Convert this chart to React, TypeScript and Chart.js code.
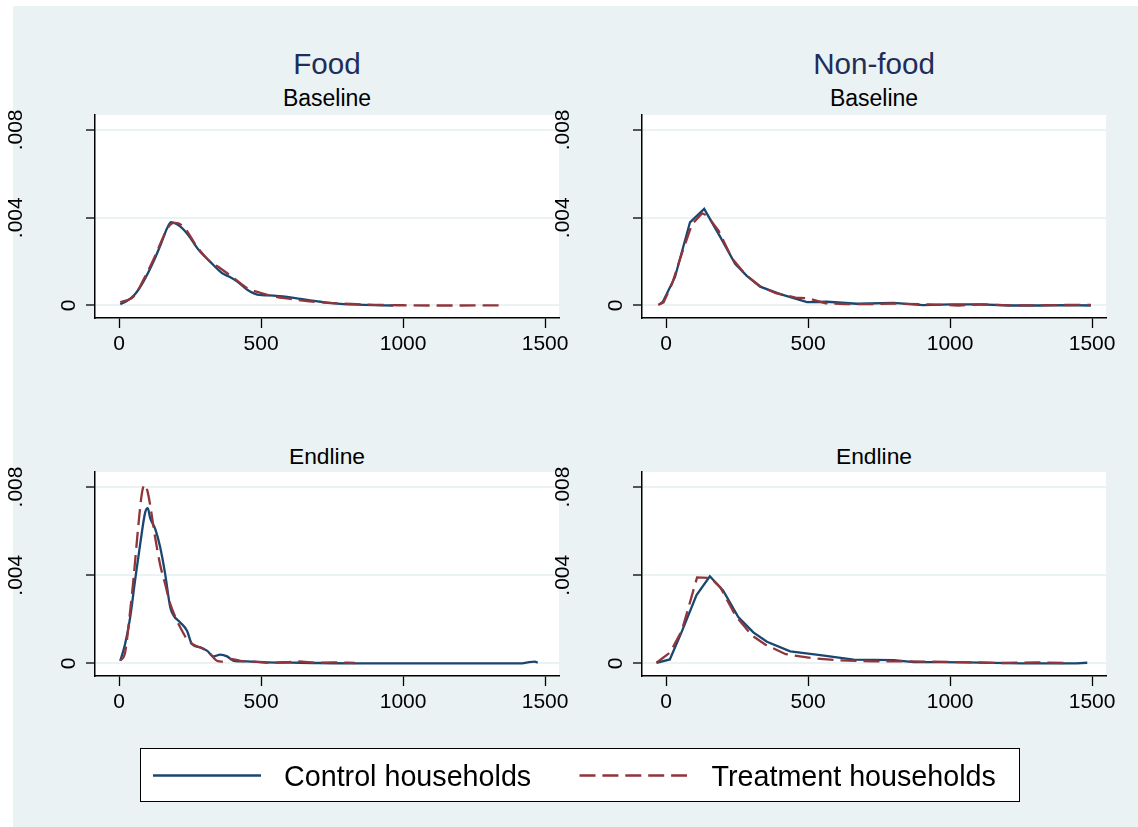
import React, { useEffect, useRef } from "react";
import { Chart, registerables } from "chart.js";

Chart.register(...registerables);

// ---------------- Data ----------------
const columnTitles = ["Food", "Non-food"];
const rowTitles = ["Baseline", "Endline"];
const seriesLabels = ["Control households", "Treatment households"];
const xTickValues = [0, 500, 1000, 1500];
const yTickValues = [0, 0.004, 0.008];
const yTickLabels = ["0", ".004", ".008"];

// Food, baseline
const foodBaseCtrlX = [4, 27, 55, 86, 121, 150, 168, 183, 191, 215, 244, 279, 320, 362, 385, 415, 450, 486, 544, 591, 638, 709, 780, 862, 965];
const foodBaseCtrlY = [0.00006, 0.0002, 0.0005, 0.0011, 0.002, 0.0029, 0.0035, 0.0038, 0.00378, 0.0036, 0.0032, 0.00255, 0.002, 0.00148, 0.00133, 0.0011, 0.00073, 0.0005, 0.00045, 0.00039, 0.0003, 0.00017, 0.00007, 0.00003, 0.0];
const foodBaseTrtX = [4, 52, 86, 121, 162, 180, 197, 226, 273, 320, 356, 403, 450, 497, 544, 591, 662, 732, 815, 900, 1000, 1100, 1200, 1346];
const foodBaseTrtY = [0.00015, 0.00042, 0.00118, 0.0021, 0.0033, 0.00368, 0.00376, 0.0036, 0.0027, 0.002, 0.0017, 0.00126, 0.0008, 0.00058, 0.00042, 0.00032, 0.0002, 0.00012, 0.00007, 0.00003, 0.00001, 0.0, 0.0, 0.00001];

// Non-food, baseline
const nonfoodBaseCtrlX = [-22, -11, 31, 84, 134, 190, 243, 284, 331, 402, 496, 566, 672, 801, 905, 1003, 1107, 1210, 1314, 1418, 1496];
const nonfoodBaseCtrlY = [0.00006, 0.00018, 0.00129, 0.00379, 0.0044, 0.00314, 0.0019, 0.00135, 0.00086, 0.00052, 0.00015, 0.00017, 0.00008, 0.00012, 0.00002, 0.00005, 0.00005, 0.0, 0.0, 0.00002, 0.0];
const nonfoodBaseTrtX = [-28, -9, 21, 56, 91, 127, 144, 185, 232, 280, 333, 386, 456, 503, 562, 633, 727, 795, 925, 1029, 1120, 1223, 1379, 1496];
const nonfoodBaseTrtY = [0.00003, 0.00014, 0.001, 0.0024, 0.0037, 0.0042, 0.0041, 0.0034, 0.00215, 0.0014, 0.00086, 0.00056, 0.00036, 0.00032, 0.0001, 0.00006, 0.00006, 0.00009, 0.00005, 0.0, 0.00005, 0.0, 0.00002, 0.00003];

// Food, endline
const foodEndCtrlX = [4, 21, 39, 56, 74, 92, 101, 109, 127, 144, 162, 180, 192, 215, 239, 256, 286, 309, 333, 356, 380, 403, 450, 521, 638, 862, 1118, 1413, 1439, 1464, 1474];
const foodEndCtrlY = [0.00012, 0.00088, 0.0021, 0.00376, 0.0054, 0.00686, 0.00704, 0.0066, 0.0061, 0.0053, 0.00406, 0.00255, 0.00217, 0.00186, 0.00148, 0.00088, 0.00073, 0.00058, 0.00032, 0.0004, 0.00032, 0.00012, 0.00009, 0.00005, 0.00003, 0.0, 0.0, 0.0, 0.00005, 0.00008, 0.00003];
const foodEndTrtX = [4, 21, 39, 50, 68, 80, 89, 100, 109, 127, 144, 162, 180, 198, 215, 239, 262, 297, 321, 344, 362, 391, 427, 474, 533, 591, 627, 700, 750, 830];
const foodEndTrtY = [0.00012, 0.0005, 0.0024, 0.00376, 0.0063, 0.0077, 0.0081, 0.0078, 0.0072, 0.0057, 0.0045, 0.0036, 0.0027, 0.0021, 0.00164, 0.0011, 0.00085, 0.00065, 0.00042, 0.00012, 0.00008, 0.0002, 0.00012, 0.00008, 0.00003, 0.00006, 0.00009, 0.00003, 0.00005, 0.00002];

// Non-food, endline
const nonfoodEndCtrlX = [-34, 13, 54, 107, 154, 201, 254, 307, 355, 437, 543, 660, 802, 872, 966, 1055, 1249, 1444, 1483];
const nonfoodEndCtrlY = [0.00003, 0.00018, 0.00141, 0.0031, 0.00395, 0.0033, 0.0021, 0.00141, 0.00098, 0.00055, 0.00038, 0.00017, 0.00015, 0.00006, 0.00006, 0.00005, 0.0, 0.0, 0.00003];
const nonfoodEndTrtX = [-34, 14, 55, 79, 109, 156, 191, 244, 303, 350, 421, 515, 610, 728, 845, 940, 1029, 1184, 1301, 1399];
const nonfoodEndTrtY = [0.00003, 0.0005, 0.00148, 0.00255, 0.0039, 0.00388, 0.00345, 0.00217, 0.00126, 0.00085, 0.00042, 0.00024, 0.00014, 0.00009, 0.00009, 0.00008, 0.00006, 0.00002, 0.00005, 0.00002];

// ---------------- Styles ----------------
const FONT = "'Liberation Sans', Arial, Helvetica, sans-serif";
const BG = "#eaf2f3";
const GRID = "#eaf2f3";
const BLUE = "#1a476f";
const RED = "#90353b";
const TITLE = "#1e2d5a";
const X_MIN = -85;
const X_MAX = 1549;
const Y_MIN = -0.00057;
const Y_MAX = 0.00868;

const plotBg = {
  id: "plotBg",
  beforeDraw(chart: any) {
    const { ctx, chartArea: a } = chart;
    ctx.save();
    ctx.fillStyle = "#ffffff";
    ctx.fillRect(a.left, a.top, a.right - a.left, a.bottom - a.top);
    ctx.restore();
  },
};

type PanelProps = {
  left: number;
  top: number;
  width: number;
  height: number;
  axisW: number;
  padRight: number;
  xAxisH: number;
  ctrlX: number[];
  ctrlY: number[];
  trtX: number[];
  trtY: number[];
  smooth: boolean;
};

function Panel(p: PanelProps) {
  const ref = useRef<HTMLCanvasElement | null>(null);
  useEffect(() => {
    const interp = p.smooth ? "monotone" : "default";
    const chart = new Chart(ref.current as HTMLCanvasElement, {
      type: "line",
      data: {
        datasets: [
          {
            label: seriesLabels[0],
            data: p.ctrlX.map((x, i) => ({ x, y: p.ctrlY[i] })),
            borderColor: BLUE,
            borderWidth: 2.3,
            pointRadius: 0,
            fill: false,
            order: 1,
            cubicInterpolationMode: interp as any,
          },
          {
            label: seriesLabels[1],
            data: p.trtX.map((x, i) => ({ x, y: p.trtY[i] })),
            borderColor: RED,
            borderWidth: 2.3,
            borderDash: [16, 7],
            pointRadius: 0,
            fill: false,
            order: 0,
            cubicInterpolationMode: interp as any,
          },
        ],
      },
      options: {
        responsive: false,
        animation: false,
        devicePixelRatio: 1,
        events: [],
        layout: { padding: { top: 15, right: p.padRight, left: 0, bottom: 0 } },
        plugins: {
          legend: { display: false },
          tooltip: { enabled: false },
          title: { display: false },
        },
        scales: {
          x: {
            type: "linear",
            min: X_MIN,
            max: X_MAX,
            afterBuildTicks: (s: any) => {
              s.ticks = xTickValues.map((v) => ({ value: v }));
            },
            afterFit: (s: any) => {
              s.height = p.xAxisH;
              s.paddingLeft = 0;
              s.paddingRight = 0;
            },
            grid: {
              drawOnChartArea: false,
              drawTicks: true,
              tickLength: 10,
              tickColor: "#000",
              tickWidth: 1.3,
            },
            border: { display: true, color: "#000", width: 1.5 },
            ticks: {
              autoSkip: false,
              maxRotation: 0,
              minRotation: 0,
              padding: 4,
              color: "#000",
              font: { family: FONT, size: 21 },
              callback: (v: any) => String(v),
            },
          },
          y: {
            type: "linear",
            min: Y_MIN,
            max: Y_MAX,
            afterBuildTicks: (s: any) => {
              s.ticks = yTickValues.map((v) => ({ value: v }));
            },
            afterFit: (s: any) => {
              s.width = p.axisW;
              s.paddingTop = 0;
              s.paddingBottom = 0;
            },
            grid: {
              color: GRID,
              lineWidth: 2,
              drawTicks: true,
              tickLength: 9,
              tickColor: "#000",
              tickWidth: 1.3,
            },
            border: { display: true, color: "#000", width: 1.5 },
            ticks: {
              autoSkip: false,
              minRotation: 90,
              maxRotation: 90,
              crossAlign: "center",
              padding: 49.6,
              color: "#000",
              font: { family: FONT, size: 21, lineHeight: "53px" },
              callback: (v: any) => {
                const i = yTickValues.findIndex((t) => Math.abs(t - v) < 1e-9);
                const lab = i >= 0 ? yTickLabels[i] : "";
                return i === 0 ? ["", "", lab] : lab;
              },
            },
          },
        },
      },
      plugins: [plotBg],
    } as any);
    return () => chart.destroy();
  }, []);
  return (
    <canvas
      ref={ref}
      width={p.width}
      height={p.height}
      style={{ position: "absolute", left: p.left, top: p.top, width: p.width, height: p.height }}
    />
  );
}

function Label(props: { text: string; cx?: number; left?: number; top: number; size: number; color: string }) {
  const style: any = {
    position: "absolute",
    top: props.top,
    fontFamily: FONT,
    fontSize: props.size,
    lineHeight: `${props.size}px`,
    color: props.color,
    whiteSpace: "nowrap",
  };
  if (props.cx !== undefined) {
    style.left = props.cx - 200;
    style.width = 400;
    style.textAlign = "center";
  } else {
    style.left = props.left;
  }
  return <div style={style}>{props.text}</div>;
}

export default function App() {
  const colLeft = [0, 547];
  const colWidth = [600, 591];
  const padRight = [41, 32];
  const colCenter = [327, 874];
  const rowTop = [100, 457];
  const xAxisH = [52, 51];
  const data = [
    [
      { cx: foodBaseCtrlX, cy: foodBaseCtrlY, tx: foodBaseTrtX, ty: foodBaseTrtY },
      { cx: nonfoodBaseCtrlX, cy: nonfoodBaseCtrlY, tx: nonfoodBaseTrtX, ty: nonfoodBaseTrtY },
    ],
    [
      { cx: foodEndCtrlX, cy: foodEndCtrlY, tx: foodEndTrtX, ty: foodEndTrtY },
      { cx: nonfoodEndCtrlX, cy: nonfoodEndCtrlY, tx: nonfoodEndTrtX, ty: nonfoodEndTrtY },
    ],
  ];
  const subtitleTop = [87.2, 444.7];

  return (
    <div style={{ position: "absolute", left: 0, top: 0, width: 1138, height: 827, overflow: "hidden", background: "#fff" }}>
      <div style={{ position: "absolute", left: 13, top: 6, width: 1125, height: 821, background: BG }} />
      {columnTitles.map((t, c) => (
        <Label key={"ct" + c} text={t} cx={colCenter[c]} top={49.3} size={29.6} color={TITLE} />
      ))}
      {rowTitles.map((rt, r) =>
        columnTitles.map((_, c) => (
          <Label key={"rt" + r + c} text={rt} cx={colCenter[c]} top={subtitleTop[r]} size={r === 0 ? 23 : 22.8} color="#000" />
        ))
      )}
      {[0, 1].map((r) =>
        [0, 1].map((c) => (
          <Panel
            key={"p" + r + c}
            left={colLeft[c]}
            top={rowTop[r]}
            width={colWidth[c]}
            height={270}
            axisW={95}
            padRight={padRight[c]}
            xAxisH={xAxisH[r]}
            ctrlX={data[r][c].cx}
            ctrlY={data[r][c].cy}
            trtX={data[r][c].tx}
            trtY={data[r][c].ty}
            smooth={c === 0}
          />
        ))
      )}
      <div
        style={{
          position: "absolute",
          left: 140,
          top: 748,
          width: 880,
          height: 54,
          boxSizing: "border-box",
          border: "1px solid #000",
          background: "#fff",
        }}
      />
      <svg style={{ position: "absolute", left: 0, top: 0 }} width={1138} height={827}>
        <line x1={153} y1={775.5} x2={261} y2={775.5} stroke={BLUE} strokeWidth={2.5} />
        <line x1={579.5} y1={775.5} x2={687} y2={775.5} stroke={RED} strokeWidth={2.5} strokeDasharray="16 6.9" />
      </svg>
      <Label text={seriesLabels[0]} left={284} top={762.4} size={28.7} color="#000" />
      <Label text={seriesLabels[1]} left={711.5} top={762.4} size={28.7} color="#000" />
    </div>
  );
}
